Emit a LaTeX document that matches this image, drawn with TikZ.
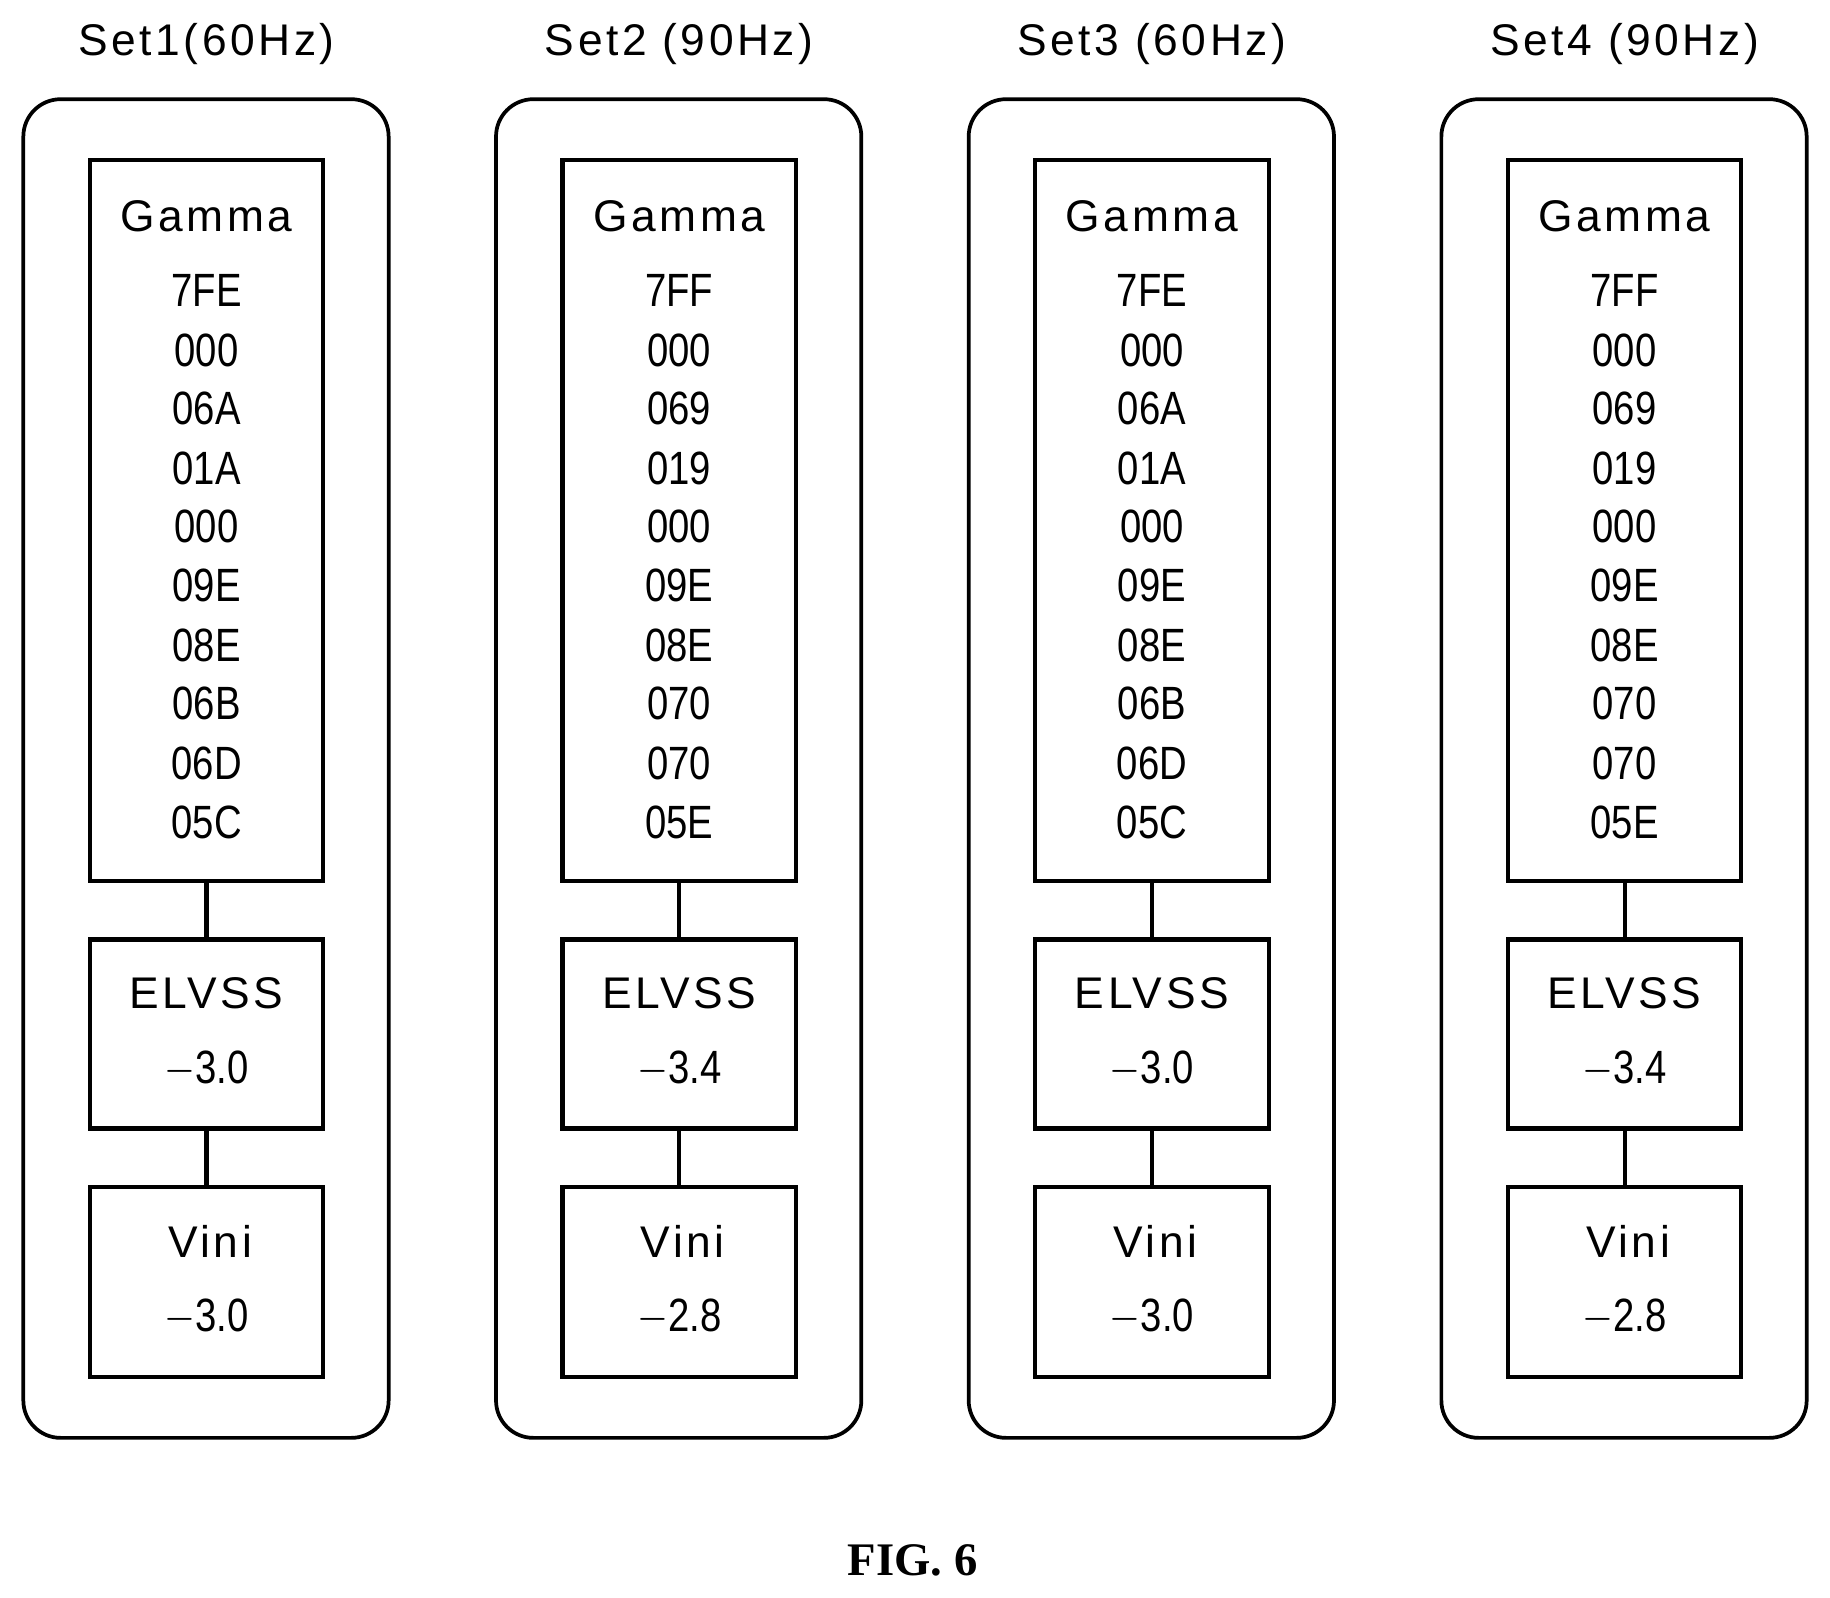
\documentclass[tikz,border=0pt]{standalone}
\usepackage{fontspec}
\setmainfont{Liberation Serif}
\newfontfamily\lab[LetterSpace=8]{Liberation Sans}
\newfontfamily\num{Liberation Sans}
\begin{document}
\begin{tikzpicture}[x=0.5pt,y=-0.5pt,
 outer/.style={draw,line width=1.6pt,rounded corners=16pt},
 box/.style={draw,line width=1.8pt},
 lbl/.style={font=\lab\fontsize{19}{22}\selectfont},
 val/.style={font=\num\fontsize{20}{22}\selectfont,xscale=0.82},
 link/.style={line width=1.8pt}]
\useasboundingbox (0,0) rectangle (1568,1369);
\foreach \i/\t/\a/\b/\c/\d/\e/\f/\g/\h in {
 0/Set1(60Hz)/7FE/06A/01A/06B/06D/05C/$-$3.0/$-$3.0,
 1/Set2 (90Hz)/7FF/069/019/070/070/05E/$-$3.4/$-$2.8,
 2/Set3 (60Hz)/7FE/06A/01A/06B/06D/05C/$-$3.0/$-$3.0,
 3/Set4 (90Hz)/7FF/069/019/070/070/05E/$-$3.4/$-$2.8}{
 \begin{scope}[xshift=\i*202.5pt]
 \node[lbl] (t\i) at (177,38) {\t};
 \draw[outer] (20,85) rectangle (333,1232);
 \node[box,minimum width=100pt,minimum height=309pt] (g\i) at (177,446) {};
 \node[box,minimum width=100pt,minimum height=81pt] (e\i) at (177,886) {};
 \node[box,minimum width=100pt,minimum height=81.5pt] (v\i) at (177,1098.5) {};
 \draw[link] (g\i.south) -- (e\i.north);
 \draw[link] (e\i.south) -- (v\i.north);
 \node[lbl] (gl\i) at (177,185) {Gamma};
 \node[val] (n1\i) at (177,249) {\a};
 \node[val] (n2\i) at (177,300) {000};
 \node[val] (n3\i) at (177,350) {\b};
 \node[val] (n4\i) at (177,401) {\c};
 \node[val] (n5\i) at (177,451) {000};
 \node[val] (n6\i) at (177,502) {09E};
 \node[val] (n7\i) at (177,553) {08E};
 \node[val] (n8\i) at (177,603) {\d};
 \node[val] (n9\i) at (177,654) {\e};
 \node[val] (n10\i) at (177,705) {\f};
 \node[lbl] (el\i) at (177,851) {ELVSS};
 \node[val] (ev\i) at (177,916) {\g};
 \node[lbl] (vl\i) at (180,1064) {Vini};
 \node[val] (vv\i) at (177,1129) {\h};
 \end{scope}}
\node[font=\bfseries\fontsize{20}{22}\selectfont] (fig) at (782,1337) {FIG. 6};
\end{tikzpicture}
\end{document}
